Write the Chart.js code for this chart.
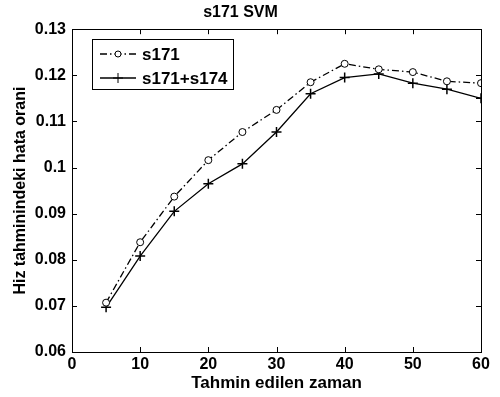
<!DOCTYPE html>
<html>
<head>
<meta charset="utf-8">
<script src="https://cdn.jsdelivr.net/npm/chart.js@4/dist/chart.umd.min.js"></script>
<style>
  body { margin: 0; background: #fff; }
  #wrap { width: 500px; height: 397px; }
</style>
</head>
<body>
<div id="wrap"><canvas id="lineChart"></canvas></div>
<script>
// values
var zaman = [5, 10, 15, 20, 25, 30, 35, 40, 45, 50, 55, 60];
var s171 = [0.0707, 0.0838, 0.0937, 0.1016, 0.1077, 0.1125, 0.1185, 0.1225, 0.1213, 0.1207, 0.1187, 0.1183];
var s171s174 = [0.0697, 0.0808, 0.0905, 0.0965, 0.1008, 0.1077, 0.1160, 0.1195, 0.1203, 0.1183, 0.1170, 0.1150];
var seriesNames = ['s171', 's171+s174'];

function pts(ys) {
    return zaman.map(function (x, i) { return { x: x, y: ys[i] }; });
}

var FAM = 'Liberation Sans, Arial, sans-serif';
var tickFont = { family: FAM, size: 16, weight: 'bold' };

// box + inward ticks on all sides (matlab look), plus the legend box
var boxPlugin = {
    id: 'box',
    afterDraw: function (chart) {
        var ctx = chart.ctx, a = chart.chartArea;
        var xs = chart.scales.x, ys = chart.scales.y;
        ctx.save();
        ctx.strokeStyle = '#000';
        ctx.lineWidth = 1;
        ctx.strokeRect(Math.round(a.left) + 0.5, Math.round(a.top) + 0.5,
            Math.round(a.right - a.left), Math.round(a.bottom - a.top));
        ctx.beginPath();
        xs.ticks.forEach(function (t) {
            var px = Math.round(xs.getPixelForValue(t.value)) + 0.5;
            ctx.moveTo(px, a.bottom); ctx.lineTo(px, a.bottom - 5);
            ctx.moveTo(px, a.top); ctx.lineTo(px, a.top + 5);
        });
        ys.ticks.forEach(function (t) {
            var py = Math.round(ys.getPixelForValue(t.value)) + 0.5;
            ctx.moveTo(a.left, py); ctx.lineTo(a.left + 5, py);
            ctx.moveTo(a.right, py); ctx.lineTo(a.right - 5, py);
        });
        ctx.stroke();

        // legend
        var lx = 92, ly = 39, lw = 141, lh = 50;
        ctx.fillStyle = '#fff';
        ctx.fillRect(lx, ly, lw, lh);
        ctx.strokeRect(lx + 0.5, ly + 0.5, lw, lh);
        chart.data.datasets.forEach(function (ds, i) {
            var yy = ly + 15 + i * 24;
            ctx.beginPath();
            ctx.setLineDash(ds.borderDash || []);
            ctx.lineWidth = ds.borderWidth;
            ctx.moveTo(lx + 8, yy); ctx.lineTo(lx + 44, yy);
            ctx.stroke();
            ctx.setLineDash([]);
            ctx.lineWidth = 1;
            var cx = lx + 26;
            ctx.beginPath();
            if (ds.pointStyle === 'circle') {
                ctx.arc(cx, yy, 3, 0, Math.PI * 2);
                ctx.fillStyle = '#fff';
                ctx.fill();
                ctx.stroke();
            } else {
                ctx.moveTo(cx - 5, yy); ctx.lineTo(cx + 5, yy);
                ctx.moveTo(cx, yy - 5); ctx.lineTo(cx, yy + 5);
                ctx.stroke();
            }
            ctx.fillStyle = '#000';
            ctx.font = 'bold 17px ' + FAM;
            ctx.textBaseline = 'middle';
            ctx.fillText(ds.label, lx + 50, yy + 1);
        });
        ctx.restore();
    }
};

var myLineChart = new Chart($id('lineChart'), {
    type: 'line',
    data: {
        datasets: [
            {
                label: seriesNames[0],
                data: pts(s171),
                borderColor: '#000',
                borderWidth: 1.3,
                borderDash: [7, 3, 1.5, 3],
                pointStyle: 'circle',
                pointRadius: 3.5,
                pointBackgroundColor: '#fff',
                pointBorderColor: '#000',
                pointBorderWidth: 1,
                tension: 0
            },
            {
                label: seriesNames[1],
                data: pts(s171s174),
                borderColor: '#000',
                borderWidth: 1.3,
                pointStyle: 'cross',
                pointRadius: 5,
                pointBorderColor: '#000',
                pointBorderWidth: 1.5,
                tension: 0
            }
        ]
    },
    options: {
        responsive: true,
        maintainAspectRatio: false,
        animation: false,
        layout: { padding: { left: 0, right: 19, top: 0, bottom: 0 } },
        plugins: {
            legend: { display: false },
            tooltip: { enabled: false },
            title: {
                display: true,
                text: 's171 SVM',
                color: '#000',
                font: { family: FAM, size: 16, weight: 'bold' },
                padding: { top: 3, bottom: 7 }
            }
        },
        scales: {
            x: {
                type: 'linear',
                min: 0, max: 60,
                grid: { display: false, drawTicks: false },
                border: { display: false },
                ticks: { stepSize: 10, color: '#000', font: tickFont, padding: 3 },
                title: { display: true, text: 'Tahmin edilen zaman', color: '#000',
                    font: { family: FAM, size: 17, weight: 'bold' }, padding: { top: 0, bottom: 3 } },
                afterFit: function (s) { s.height = 45; }
            },
            y: {
                min: 0.06, max: 0.13,
                grid: { display: false, drawTicks: false },
                border: { display: false },
                ticks: {
                    stepSize: 0.01, color: '#000', font: tickFont, padding: 6,
                    callback: function (v) { return parseFloat(v.toFixed(2)).toString(); }
                },
                title: { display: true, text: 'Hiz tahminindeki hata orani', color: '#000',
                    font: { family: FAM, size: 16, weight: 'bold' }, padding: { top: 11, bottom: 0 } },
                afterFit: function (s) { s.width = 72; }
            }
        }
    },
    plugins: [boxPlugin]
});

function $id(id) { return document.getElementById(id); }
</script>
</body>
</html>
